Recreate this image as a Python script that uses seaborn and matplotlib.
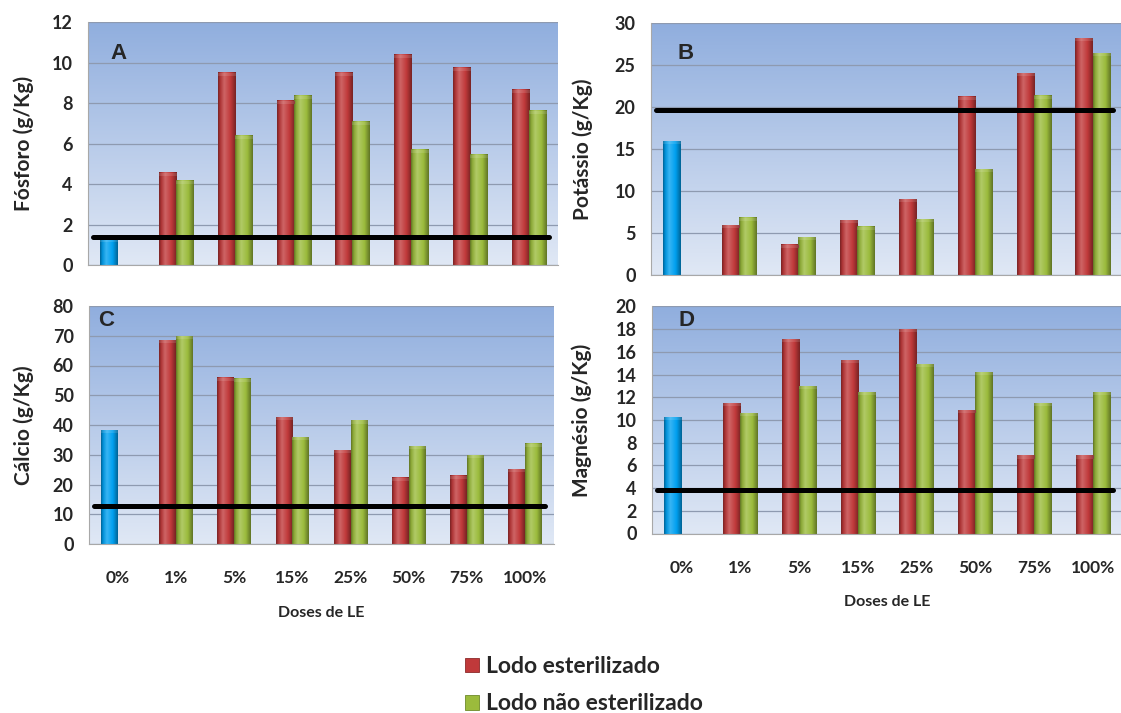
import numpy as np
import pandas as pd
import matplotlib
matplotlib.use("Agg")
import matplotlib.pyplot as plt
from matplotlib.colors import to_rgb
from matplotlib.patches import Patch
import seaborn as sns

# ---- data -------------------------------------------------------------
doses = ["0%", "1%", "5%", "15%", "25%", "50%", "75%", "100%"]
series = ["Lodo esterilizado", "Lodo não esterilizado"]

# control (0 %) value of each nutrient
controle = [1.3, 15.9, 38.2, 10.25]

fosforo_est = [4.58, 9.47, 8.10, 9.47, 10.38, 9.75, 8.65]
fosforo_nao = [4.14, 6.39, 8.36, 7.08, 5.67, 5.47, 7.59]
potassio_est = [5.93, 3.62, 6.53, 9.03, 21.25, 24.03, 28.21]
potassio_nao = [6.84, 4.50, 5.77, 6.65, 12.61, 21.33, 26.42]
calcio_est = [68.5, 55.9, 42.6, 31.5, 22.3, 22.9, 25.1]
calcio_nao = [69.8, 55.5, 35.8, 41.3, 32.9, 29.8, 33.7]
magnesio_est = [11.5, 17.1, 15.25, 18.05, 10.85, 6.87, 6.87]
magnesio_nao = [10.6, 13.0, 12.45, 14.9, 14.27, 11.5, 12.45]

# reference level (horizontal line) of each nutrient
referencia = [1.38, 19.7, 12.75, 3.85]

ylabels = ["Fósforo (g/Kg)", "Potássio (g/Kg)", "Cálcio (g/Kg)", "Magnésio (g/Kg)"]
letters = ["A", "B", "C", "D"]
ymax = [12, 30, 80, 20]
ystep = [2, 5, 10, 2]

# ---- style ------------------------------------------------------------
sns.set_style("white")
plt.rcParams["font.family"] = ["Lato", "DejaVu Sans"]
plt.rcParams["font.weight"] = "bold"

RED, GREEN, BLUE = "#c0393a", "#9bbb3c", "#00a0f0"
GRID = "#8e9ab0"

W, H = 1121, 713
fig = plt.figure(figsize=(W / 100, H / 100), dpi=100)


def px_axes(x0, x1, ytop, ybot):
    return fig.add_axes([x0 / W, 1 - ybot / H, (x1 - x0) / W, (ybot - ytop) / H])


def blend(c1, c2, t):
    return tuple(a + (b - a) * t for a, b in zip(c1, c2))


def cylinder(base):
    """Horizontal shading across a bar: dark rim, highlight, body, dark rim."""
    b = np.array(to_rgb(base))
    dark = b * 0.62
    light = b + (1 - b) * 0.22
    t = np.linspace(0, 1, 64)
    keys = [(0.0, dark), (0.12, b * 0.9), (0.35, light), (0.7, b), (1.0, dark)]
    out = np.zeros((64, 3))
    for i, tv in enumerate(t):
        for (t0, c0), (t1, c1) in zip(keys[:-1], keys[1:]):
            if t0 <= tv <= t1:
                out[i] = blend(c0, c1, (tv - t0) / (t1 - t0))
                break
    return np.clip(out, 0, 1)


panels = [
    (px_axes(88, 558, 22, 265.5), fosforo_est, fosforo_nao, (0.047, 0.915), -0.115, False),
    (px_axes(651, 1122, 23, 275), potassio_est, potassio_nao, (0.057, 0.92), -0.124, False),
    (px_axes(89, 554, 306, 544), calcio_est, calcio_nao, (0.02, 0.985), -0.118, True),
    (px_axes(652, 1122, 306.5, 533.5), magnesio_est, magnesio_nao, (0.057, 0.985), -0.127, True),
]

for i, (ax, est, nao, letter_pos, ylab_x, show_x) in enumerate(panels):
    rows = [(doses[0], series[0], controle[i])]
    for d, v in zip(doses[1:], est):
        rows.append((d, series[0], v))
    for d, v in zip(doses[1:], nao):
        rows.append((d, series[1], v))
    df = pd.DataFrame(rows, columns=["dose", "serie", "valor"])

    # background gradient
    grad = np.linspace(0, 1, 256)[:, None, None]
    top = np.array(to_rgb("#90aede"))
    bot = np.array(to_rgb("#e0e8f5"))
    bg = top * (1 - grad) + bot * grad
    ax.imshow(bg, extent=[0, 1, 0, 1], transform=ax.transAxes, aspect="auto",
              zorder=0, interpolation="bilinear")

    sns.barplot(data=df, x="dose", y="valor", hue="serie", order=doses,
                hue_order=series, palette=[RED, GREEN], width=0.58,
                legend=False, ax=ax, errorbar=None, saturation=1, zorder=2)

    yl = (0, ymax[i])
    ax.set_ylim(*yl)
    ax.set_xlim(-0.5, 7.5)
    ax_h_px = ax.get_position().height * H
    cap = 3 * (yl[1] - yl[0]) / ax_h_px

    for p in list(ax.patches):
        h = p.get_height()
        if not np.isfinite(h) or h <= 0:
            continue
        x0, w = p.get_x(), p.get_width()
        if x0 + w / 2 < 0:
            base = BLUE
        elif abs(to_rgb(p.get_facecolor())[0] - to_rgb(RED)[0]) < 0.05:
            base = RED
        else:
            base = GREEN
        shade = cylinder(base)
        ax.imshow(shade[None, :, :], extent=(x0, x0 + w, 0, h), aspect="auto",
                  zorder=2.5, interpolation="bilinear")
        capc = np.clip(shade + (1 - shade) * 0.12, 0, 1)
        ax.imshow(capc[None, :, :], extent=(x0, x0 + w, h - cap, h), aspect="auto",
                  zorder=2.6, interpolation="bilinear")
        p.set_visible(False)

    ax.axhline(referencia[i], xmin=0.01, xmax=0.98, color="black", lw=3.6, zorder=4)

    ax.set_ylim(*yl)
    ax.set_xlim(-0.5, 7.5)
    ax.set_yticks(np.arange(0, ymax[i] + 0.1, ystep[i]))
    ax.yaxis.grid(True, color=GRID, lw=0.9)
    ax.xaxis.grid(False)
    ax.set_axisbelow(True)
    for g in ax.get_ygridlines():
        g.set_zorder(1)

    for s in ["top", "right"]:
        ax.spines[s].set_visible(False)
    ax.spines["left"].set_color("#a8a8a8")
    ax.spines["bottom"].set_color("#a8a8a8")
    ax.spines["left"].set_linewidth(0.8)
    ax.spines["bottom"].set_linewidth(0.8)
    ax.tick_params(axis="y", length=5, color="#a8a8a8", width=0.8, pad=6,
                   labelsize=13)
    ax.tick_params(axis="x", length=0, pad=19, labelsize=12.5)
    for t in ax.get_yticklabels() + ax.get_xticklabels():
        t.set_fontweight("bold")

    ax.set_ylabel(ylabels[i], fontsize=15, fontweight="bold")
    ax.yaxis.set_label_coords(ylab_x, 0.5)

    if show_x:
        ax.set_xlabel("Doses de LE", fontsize=11.5, fontweight="bold", labelpad=14)
    else:
        ax.set_xlabel("")
        ax.set_xticklabels([])

    ax.text(letter_pos[0], letter_pos[1], letters[i], transform=ax.transAxes,
            ha="left", va="top", fontsize=16, fontweight="bold",
            family=["Liberation Sans", "DejaVu Sans"], zorder=5)

handles = [Patch(facecolor=RED, edgecolor="#8c2a2a", lw=0.6),
           Patch(facecolor=GREEN, edgecolor="#6e8a2a", lw=0.6)]
leg = fig.legend(handles, series, loc="upper left",
                 bbox_to_anchor=(465 / W, 1 - 656 / H), frameon=False,
                 fontsize=16.5, handlelength=0.62, handleheight=0.62,
                 handletextpad=0.3, labelspacing=0.72, borderpad=0,
                 borderaxespad=0)
for t in leg.get_texts():
    t.set_fontweight("bold")

fig.savefig("out.png", dpi=100)
